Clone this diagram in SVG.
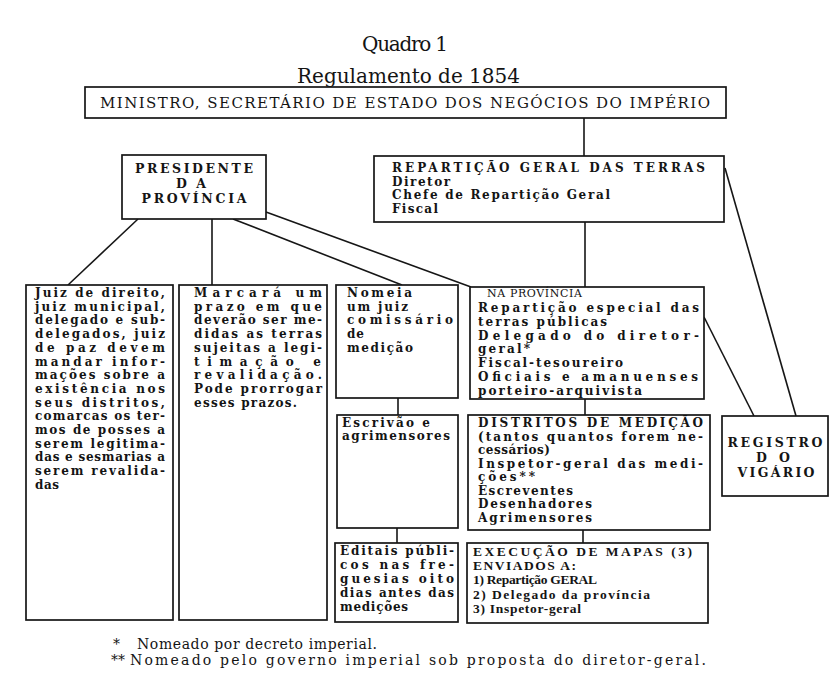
<svg xmlns="http://www.w3.org/2000/svg" width="831" height="673" viewBox="0 0 831 673">
<style>
.bx { fill: #fff; stroke: #161616; stroke-width: 1.7; }
.ln { fill: none; stroke: #161616; stroke-width: 1.6; }
.t { font-family: "DejaVu Serif", "Liberation Serif", serif; font-size: 12px; font-weight: bold; fill: #141414; }
.tr { font-family: "Liberation Serif", "DejaVu Serif", serif; font-size: 13.5px; font-weight: bold; fill: #141414; }
.cap { font-family: "DejaVu Serif", "Liberation Serif", serif; font-size: 12.5px; font-weight: bold; fill: #141414; }
.sm { font-family: "DejaVu Serif", "Liberation Serif", serif; font-size: 11px; fill: #141414; }
.ttl { font-family: "DejaVu Serif", "Liberation Serif", serif; font-size: 20px; fill: #141414; }
.min { font-family: "DejaVu Serif", "Liberation Serif", serif; font-size: 15px; fill: #141414; }
.fn { font-family: "DejaVu Serif", "Liberation Serif", serif; font-size: 14px; fill: #141414; }
.mid { text-anchor: middle; }
</style>
<rect width="831" height="673" fill="#fff"/>

<g id="titles">
<text class="ttl" x="362" y="51" textLength="86" lengthAdjust="spacing">Quadro 1</text>
<text class="ttl" x="297" y="83" textLength="223" lengthAdjust="spacing">Regulamento de 1854</text>
</g>

<g id="connectors">
<path class="ln" d="M584 118 V156"/>
<path class="ln" d="M138 219 L68 285"/>
<path class="ln" d="M212 219 V285"/>
<path class="ln" d="M233 219 L402 285"/>
<path class="ln" d="M266 212 L471 287"/>
<path class="ln" d="M585 222 V287"/>
<path class="ln" d="M725 168 L796 416"/>
<path class="ln" d="M704 317 L754 416"/>
<path class="ln" d="M398 398 V415"/>
<path class="ln" d="M397 528 V543"/>
<path class="ln" d="M585 399 V415"/>
<path class="ln" d="M583 530 V543"/>
</g>

<g id="ministro">
<rect class="bx" x="85" y="87" width="641" height="31"/>
<text class="min" x="100" y="108" textLength="610" lengthAdjust="spacing">MINISTRO, SECRETÁRIO DE ESTADO DOS NEGÓCIOS DO IMPÉRIO</text>
</g>

<g id="presidente">
<rect class="bx" x="122" y="155" width="144" height="64"/>
<text class="cap mid" x="194" y="173" textLength="118" lengthAdjust="spacing">PRESIDENTE</text>
<text class="cap mid" x="191" y="188" textLength="30" lengthAdjust="spacing">DA</text>
<text class="cap mid" x="194" y="203" textLength="105" lengthAdjust="spacing">PROVÍNCIA</text>
</g>

<g id="reparticao">
<rect class="bx" x="374" y="156" width="350" height="66"/>
<text class="t" x="392" y="172" textLength="313" lengthAdjust="spacing">REPARTIÇÃO GERAL DAS TERRAS</text>
<text class="t" x="392" y="186" textLength="58" lengthAdjust="spacing">Diretor</text>
<text class="t" x="392" y="199" textLength="218" lengthAdjust="spacing">Chefe de Repartição Geral</text>
<text class="t" x="392" y="213" textLength="46" lengthAdjust="spacing">Fiscal</text>
</g>

<g id="juiz">
<rect class="bx" x="26" y="285" width="147" height="335"/>
<text class="t" x="35" y="297" textLength="130" lengthAdjust="spacing">Juiz de direito,</text>
<text class="t" x="35" y="310.7" textLength="130" lengthAdjust="spacing">juiz municipal,</text>
<text class="t" x="35" y="324.4" textLength="130" lengthAdjust="spacing">delegado e sub-</text>
<text class="t" x="35" y="338.1" textLength="130" lengthAdjust="spacing">delegados, juiz</text>
<text class="t" x="35" y="351.8" textLength="130" lengthAdjust="spacing">de paz devem</text>
<text class="t" x="35" y="365.5" textLength="130" lengthAdjust="spacing">mandar infor-</text>
<text class="t" x="35" y="379.2" textLength="130" lengthAdjust="spacing">mações sobre a</text>
<text class="t" x="35" y="392.9" textLength="130" lengthAdjust="spacing">existência nos</text>
<text class="t" x="35" y="406.6" textLength="130" lengthAdjust="spacing">seus distritos,</text>
<text class="t" x="35" y="420.3" textLength="130" lengthAdjust="spacing">comarcas os ter-</text>
<text class="t" x="35" y="434" textLength="130" lengthAdjust="spacing">mos de posses a</text>
<text class="t" x="35" y="447.7" textLength="130" lengthAdjust="spacing">serem legitima-</text>
<text class="t" x="35" y="461.4" textLength="130" lengthAdjust="spacing">das e sesmarias a</text>
<text class="t" x="35" y="475.1" textLength="130" lengthAdjust="spacing">serem revalida-</text>
<text class="t" x="35" y="488.8" textLength="24" lengthAdjust="spacing">das</text>
</g>

<g id="marcara">
<rect class="bx" x="179" y="285" width="148" height="335"/>
<text class="t" x="194" y="297" textLength="128" lengthAdjust="spacing">Marcará um</text>
<text class="t" x="194" y="310.7" textLength="128" lengthAdjust="spacing">prazo em que</text>
<text class="t" x="194" y="324.4" textLength="128" lengthAdjust="spacing">deverão ser me-</text>
<text class="t" x="194" y="338.1" textLength="128" lengthAdjust="spacing">didas as terras</text>
<text class="t" x="194" y="351.8" textLength="128" lengthAdjust="spacing">sujeitas a legi-</text>
<text class="t" x="194" y="365.5" textLength="127" lengthAdjust="spacing">timação e</text>
<text class="t" x="194" y="379.2" textLength="128" lengthAdjust="spacing">revalidação.</text>
<text class="t" x="194" y="392.9" textLength="128" lengthAdjust="spacing">Pode prorrogar</text>
<text class="t" x="194" y="406.6" textLength="103" lengthAdjust="spacing">esses prazos.</text>
</g>

<g id="nomeia">
<rect class="bx" x="336" y="285" width="122" height="113"/>
<text class="t" x="347" y="297" textLength="65" lengthAdjust="spacing">Nomeia</text>
<text class="t" x="347" y="310.7" textLength="61" lengthAdjust="spacing">um juiz</text>
<text class="t" x="347" y="324.4" textLength="106" lengthAdjust="spacing">comissário</text>
<text class="t" x="347" y="338.1" textLength="17" lengthAdjust="spacing">de</text>
<text class="t" x="347" y="351.8" textLength="66" lengthAdjust="spacing">medição</text>
</g>

<g id="na-provincia">
<rect class="bx" x="470" y="287" width="234" height="112"/>
<text class="sm" x="487" y="297" textLength="95" lengthAdjust="spacing">NA PROVÍNCIA</text>
<text class="t" x="478" y="312" textLength="221" lengthAdjust="spacing">Repartição especial das</text>
<text class="t" x="478" y="326" textLength="129" lengthAdjust="spacing">terras públicas</text>
<text class="t" x="478" y="340" textLength="221" lengthAdjust="spacing">Delegado do diretor-</text>
<text class="t" x="478" y="353" textLength="52" lengthAdjust="spacing">geral*</text>
<text class="t" x="478" y="367" textLength="145" lengthAdjust="spacing">Fiscal-tesoureiro</text>
<text class="t" x="478" y="381" textLength="220" lengthAdjust="spacing">Oficiais e amanuenses</text>
<text class="t" x="478" y="395" textLength="164" lengthAdjust="spacing">porteiro-arquivista</text>
</g>

<g id="escrivao">
<rect class="bx" x="337" y="415" width="121" height="113"/>
<text class="t" x="342" y="427" textLength="88" lengthAdjust="spacing">Escrivão e</text>
<text class="t" x="342" y="440" textLength="108" lengthAdjust="spacing">agrimensores</text>
</g>

<g id="distritos">
<rect class="bx" x="468" y="415" width="242" height="115"/>
<text class="t" x="478" y="427" textLength="225" lengthAdjust="spacing">DISTRITOS DE MEDIÇÃO</text>
<text class="t" x="478" y="441" textLength="225" lengthAdjust="spacing">(tantos quantos forem ne-</text>
<text class="t" x="478" y="454" textLength="72" lengthAdjust="spacing">cessários)</text>
<text class="t" x="478" y="468" textLength="225" lengthAdjust="spacing">Inspetor-geral das medi-</text>
<text class="t" x="478" y="481" textLength="57" lengthAdjust="spacing">ções**</text>
<text class="t" x="478" y="495" textLength="95" lengthAdjust="spacing">Escreventes</text>
<text class="t" x="478" y="508" textLength="114" lengthAdjust="spacing">Desenhadores</text>
<text class="t" x="478" y="522" textLength="114" lengthAdjust="spacing">Agrimensores</text>
</g>

<g id="registro">
<rect class="bx" x="722" y="416" width="106" height="80"/>
<text class="cap mid" x="775" y="447" textLength="95" lengthAdjust="spacing">REGISTRO</text>
<text class="cap mid" x="773" y="462" textLength="34" lengthAdjust="spacing">DO</text>
<text class="cap mid" x="776" y="477" textLength="77" lengthAdjust="spacing">VIGÁRIO</text>
</g>

<g id="editais">
<rect class="bx" x="335" y="543" width="123" height="79"/>
<text class="t" x="340" y="555" textLength="114" lengthAdjust="spacing">Editais públi-</text>
<text class="t" x="340" y="569" textLength="114" lengthAdjust="spacing">cos nas fre-</text>
<text class="t" x="340" y="583" textLength="114" lengthAdjust="spacing">guesias oito</text>
<text class="t" x="340" y="597" textLength="114" lengthAdjust="spacing">dias antes das</text>
<text class="t" x="340" y="611" textLength="68" lengthAdjust="spacing">medições</text>
</g>

<g id="execucao">
<rect class="bx" x="467" y="543" width="241" height="80"/>
<text class="tr" x="473" y="556" textLength="219" lengthAdjust="spacing">EXECUÇÃO DE MAPAS (3)</text>
<text class="tr" x="473" y="570" textLength="103" lengthAdjust="spacing">ENVIADOS A:</text>
<text class="tr" x="473" y="584" textLength="124" lengthAdjust="spacing">1) Repartição GERAL</text>
<text class="tr" x="473" y="599" textLength="177" lengthAdjust="spacing">2) Delegado da província</text>
<text class="tr" x="473" y="613" textLength="108" lengthAdjust="spacing">3) Inspetor-geral</text>
</g>

<g id="footnotes">
<text class="fn" x="113" y="649">*</text>
<text class="fn" x="137" y="649" textLength="240" lengthAdjust="spacing">Nomeado por decreto imperial.</text>
<text class="fn" x="111" y="665">**</text>
<text class="fn" x="130" y="665" textLength="576" lengthAdjust="spacing">Nomeado pelo governo imperial sob proposta do diretor-geral.</text>
</g>
</svg>
